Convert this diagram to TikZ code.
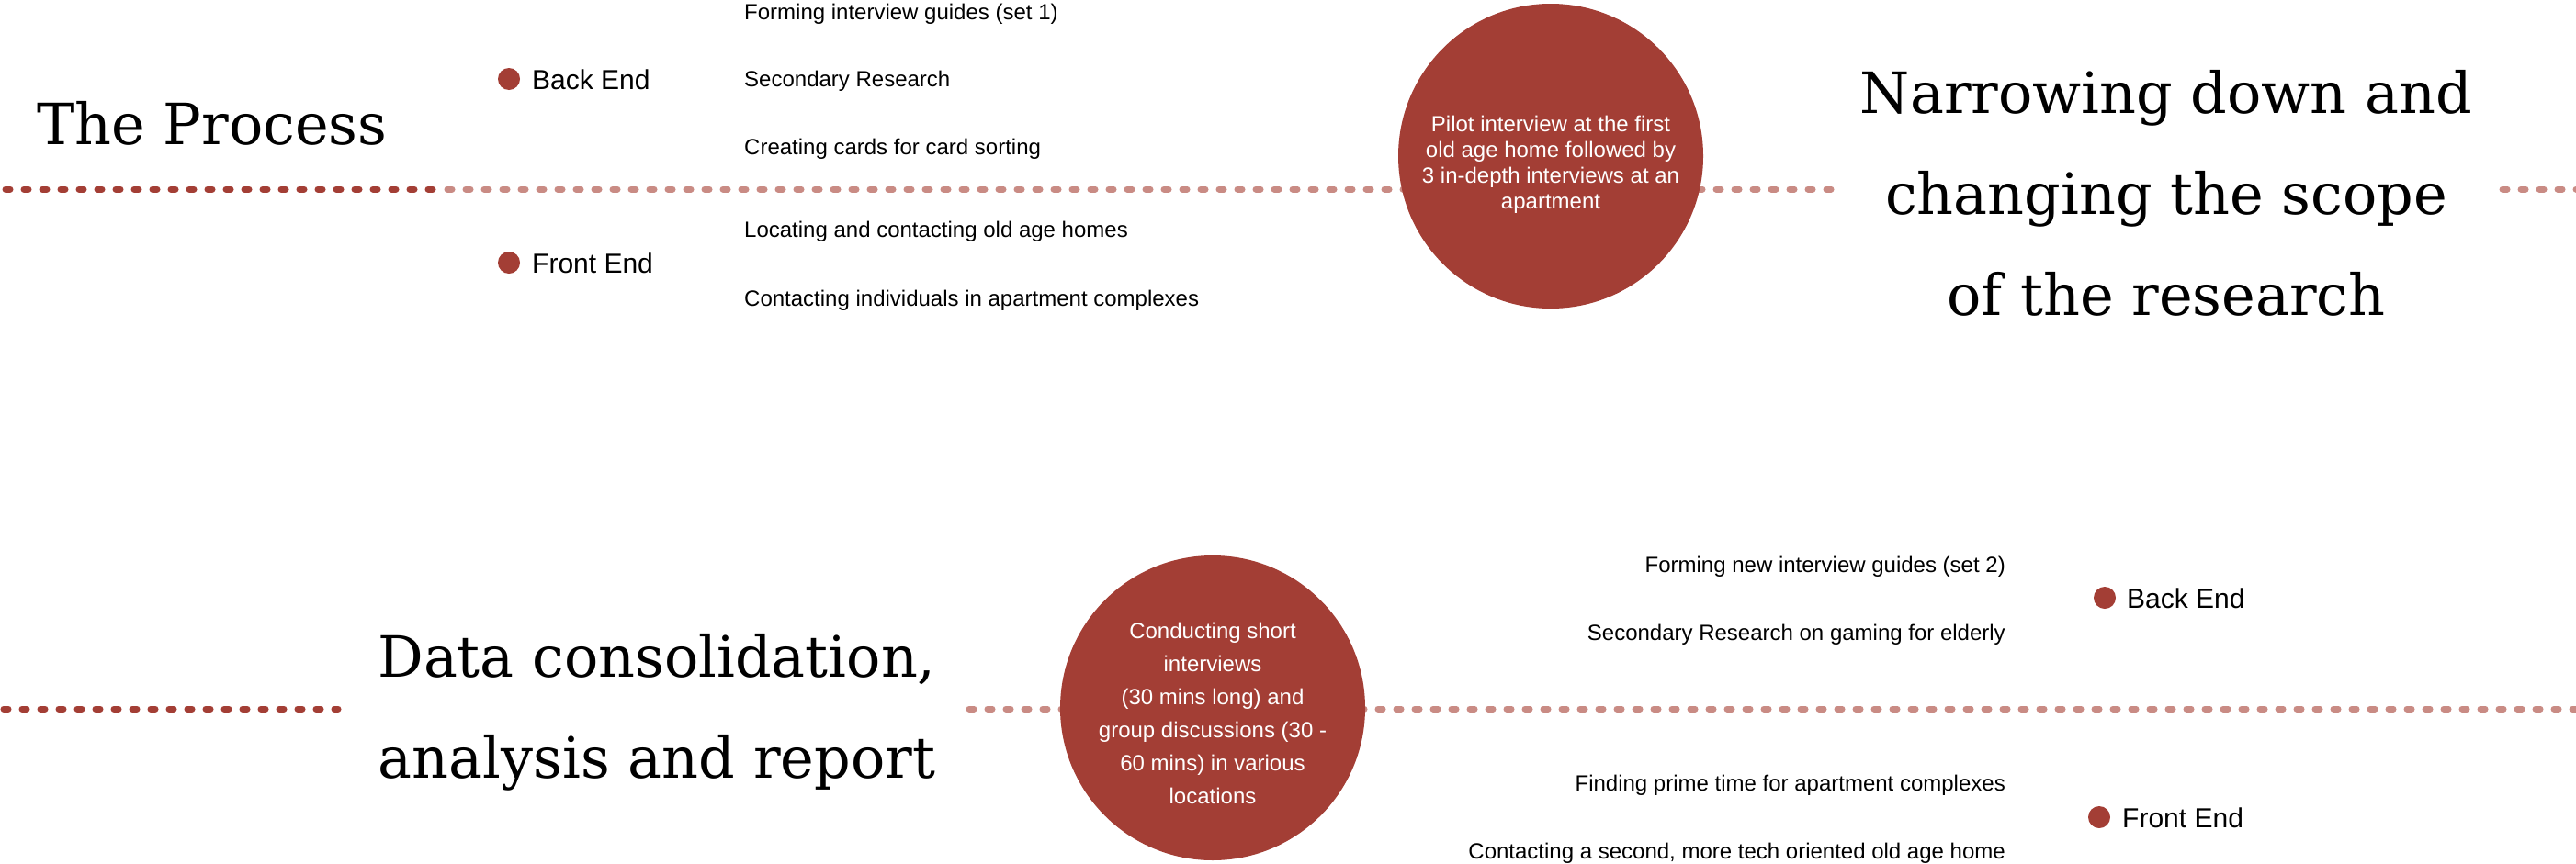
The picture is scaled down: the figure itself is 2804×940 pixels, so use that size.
\documentclass[tikz,border=0pt]{standalone}
\usepackage{fontspec}
\setmainfont{Liberation Sans}
\newfontfamily\titlefont{DejaVu Serif}
\usetikzlibrary{backgrounds}
\definecolor{accent}{RGB}{163,62,53}
\definecolor{soft}{RGB}{201,139,132}
\tikzset{
  dotline/.style={line width=7pt, line cap=round, dash pattern=on 5pt off 15pt},
  darkline/.style={dotline, draw=accent},
  lightline/.style={dotline, draw=soft},
  bigcircle/.style={circle, fill=accent, minimum size=332pt, inner sep=0pt},
  circtext/.style={text=white, align=center, inner sep=0pt},
  bullet/.style={circle, fill=accent, minimum size=24pt, inner sep=0pt},
  bigtitle/.style={font=\titlefont\fontsize{62}{72}\selectfont, inner sep=0pt},
  lab/.style={font=\fontsize{30}{36}\selectfont, inner sep=0pt},
  item/.style={font=\fontsize{24}{28}\selectfont, inner sep=0pt}
}
\begin{document}
\begin{tikzpicture}[x=1pt, y=-1pt]
\useasboundingbox (0,0) rectangle (2804,940);

% circles
\node[bigcircle] (c1) at (1688,170) {};
\node[circtext, font=\fontsize{24}{28}\selectfont] (c1t) at (1688,179)
  {Pilot interview at the first\\old age home followed by\\3 in-depth interviews at an\\apartment};
\node[bigcircle] (c2) at (1320,771) {};
\node[circtext, font=\fontsize{24}{36}\selectfont] (c2t) at (1320,777)
  {Conducting short\\interviews\\(30 mins long) and\\group discussions (30 -\\60 mins) in various\\locations};

% dotted timeline
\coordinate (a1) at (6,206);
\coordinate (a2) at (472,206);
\coordinate (a3) at (487,206);
\coordinate (a4) at (2000,206);
\coordinate (a5) at (2724,206);
\coordinate (a6) at (2804,206);
\coordinate (b1) at (4,772);
\coordinate (b2) at (368,772);
\coordinate (b3) at (1055,772);
\coordinate (b4) at (2804,772);
\begin{scope}[on background layer]
\draw[darkline] (a1) -- (a2);
\draw[lightline] (a3) -- (c1.center |- a3);
\draw[lightline] (c1.center |- a3) -- (a4);
\draw[lightline] (a5) -- (a6);
\draw[darkline] (b1) -- (b2);
\draw[lightline] (b3) -- (c2.center |- b3);
\draw[lightline] (c2.center |- b3) -- (b4);
\end{scope}

% titles
\node[bigtitle, anchor=base west] (t1) at (40,157) {The Process};
\node[bigtitle, anchor=base] (t2a) at (2358,123) {Narrowing down and};
\node[bigtitle, anchor=base] (t2b) at (2358,233) {changing the scope};
\node[bigtitle, anchor=base] (t2c) at (2358,343) {of the research};
\node[bigtitle, anchor=base] (t3a) at (715,737) {Data consolidation,};
\node[bigtitle, anchor=base] (t3b) at (715,847) {analysis and report};

% top left group
\node[bullet] (be1) at (554,86) {};
\node[lab, anchor=base west] (be1t) at (579,97) {Back End};
\node[bullet] (fe1) at (554,286) {};
\node[lab, anchor=base west] (fe1t) at (579,297) {Front End};
\node[item, anchor=base west] (i1) at (810,21) {Forming interview guides (set 1)};
\node[item, anchor=base west] (i2) at (810,94) {Secondary Research};
\node[item, anchor=base west] (i3) at (810,168) {Creating cards for card sorting};
\node[item, anchor=base west] (i4) at (810,258) {Locating and contacting old age homes};
\node[item, anchor=base west] (i5) at (810,333) {Contacting individuals in apartment complexes};

% bottom right group
\node[bullet] (be2) at (2291,651) {};
\node[lab, anchor=base west] (be2t) at (2315,662) {Back End};
\node[bullet] (fe2) at (2285,890) {};
\node[lab, anchor=base west] (fe2t) at (2310,901) {Front End};
\node[item, anchor=base east] (j1) at (2183,623) {Forming new interview guides (set 2)};
\node[item, anchor=base east] (j2) at (2183,697) {Secondary Research on gaming for elderly};
\node[item, anchor=base east] (j3) at (2183,861) {Finding prime time for apartment complexes};
\node[item, anchor=base east] (j4) at (2183,935) {Contacting a second, more tech oriented old age home};
\end{tikzpicture}
\end{document}
